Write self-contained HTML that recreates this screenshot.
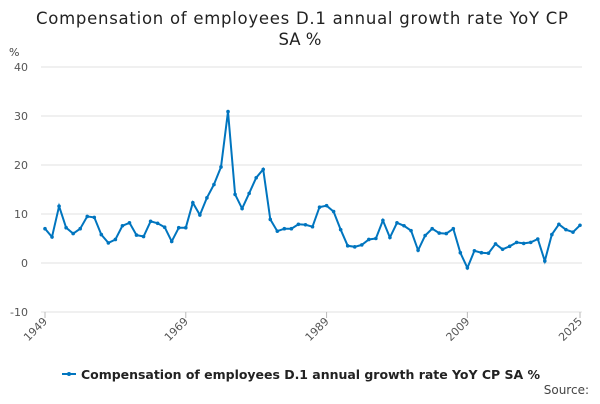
<!DOCTYPE html>
<html><head><meta charset="utf-8"><style>
body{margin:0;width:600px;height:400px;background:#fff;font-family:"DejaVu Sans",sans-serif;overflow:hidden}
svg text{font-family:"DejaVu Sans",sans-serif}
</style></head><body>
<svg width="600" height="400" id="c">
<text x="302" y="24" text-anchor="middle" font-size="16.5" fill="#222" textLength="532">Compensation of employees D.1 annual growth rate YoY CP</text>
<text x="300" y="45" text-anchor="middle" font-size="16.5" fill="#222">SA %</text>
<text x="9" y="56" font-size="11" fill="#444">%</text>
<g id="grid"></g><g id="xt"></g>
<path id="ln" fill="none" stroke="#0075bf" stroke-width="2"/>
<g id="pts"></g>
<line x1="62" y1="374" x2="76" y2="374" stroke="#0075bf" stroke-width="2"/>
<circle cx="69" cy="374" r="2" fill="#0075bf"/>
<text x="81" y="379" font-size="12.5" font-weight="bold" fill="#222" textLength="459">Compensation of employees D.1 annual growth rate YoY CP SA %</text>
<text x="589" y="394" text-anchor="end" font-size="12" fill="#444">Source:</text>
</svg>
<script>
const startYear=1949;
const values=[7.0,5.3,11.6,7.2,6.0,7.0,9.5,9.3,5.8,4.1,4.8,7.6,8.2,5.7,5.4,8.5,8.1,7.3,4.4,7.2,7.2,12.3,9.8,13.3,16.0,19.6,30.9,14.0,11.1,14.2,17.4,19.1,8.9,6.5,7.0,7.0,7.9,7.8,7.4,11.4,11.7,10.5,6.8,3.5,3.3,3.7,4.8,5.0,8.7,5.2,8.2,7.6,6.6,2.6,5.6,7.0,6.1,6.0,7.0,2.1,-1.0,2.5,2.1,2.0,3.9,2.8,3.4,4.2,4.0,4.2,4.9,0.4,5.8,7.9,6.8,6.3,7.7];
const yTicks=[-10,0,10,20,30,40];
const xTicks=[1949,1969,1989,2009,2025];
const NS="http://www.w3.org/2000/svg";
const X=y=>45+(y-1949)*(535/76);
const Y=v=>263-v*4.9;
function mk(t,a,p){const e=document.createElementNS(NS,t);for(const k in a)e.setAttribute(k,a[k]);p.appendChild(e);return e;}
const g=document.getElementById('grid');
yTicks.forEach(v=>{
 const l=mk('line',{x1:41,x2:582,y1:Y(v),y2:Y(v),stroke:'#e0e0e0','stroke-width':1},g);
 
 
 const t=mk('text',{x:28,y:Y(v)+4,'text-anchor':'end','font-size':11,fill:'#555'},g);
 t.textContent=v;
 
 
});
const xt=document.getElementById('xt');
xTicks.forEach(yr=>{
 const x=X(yr);
 mk('line',{x1:x,x2:x,y1:312,y2:318,stroke:'#bbb'},xt);
 const t=mk('text',{x:x+3,y:322,'text-anchor':'end','font-size':11,fill:'#555',transform:`rotate(-45 ${x+3} 322)`},xt);
 t.textContent=yr;
 
 
});
let d='';const pts=document.getElementById('pts');
values.forEach((v,i)=>{
 const x=X(startYear+i),y=Y(v);d+=(i?'L':'M')+x.toFixed(1)+','+y.toFixed(1);
 const c=mk('circle',{cx:x,cy:y,r:1.8,fill:'#0075bf'},pts);
 
 
});
document.getElementById('ln').setAttribute('d',d);
</script>
</body></html>
